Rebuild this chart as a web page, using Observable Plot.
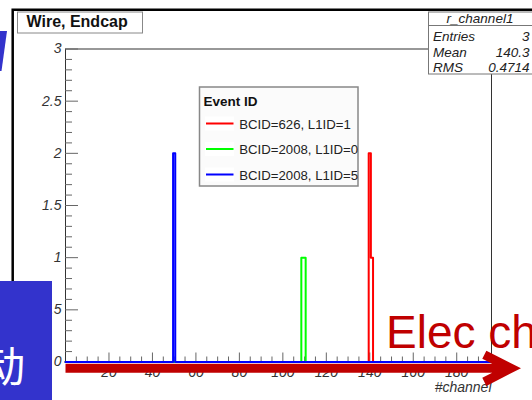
<!DOCTYPE html>
<html><head><meta charset="utf-8">
<script src="https://cdn.jsdelivr.net/npm/d3@7"></script>
<script src="https://cdn.jsdelivr.net/npm/@observablehq/plot@0.6"></script>
<style>
html,body{margin:0;padding:0;background:#fff;overflow:hidden}
#wrap{position:relative;width:532px;height:400px;overflow:hidden;background:#fff}
#wrap svg{position:absolute;left:0;top:0}
#wrap g[aria-label="y-axis tick label"] text,#wrap g[aria-label="x-axis tick label"] text{font-style:italic}
</style></head><body><div id="wrap"></div>
<script>
// ---- data ----
const seriesNames = ["BCID=626, L1ID=1", "BCID=2008, L1ID=0", "BCID=2008, L1ID=5"];
const seriesColors = ["#ff0000", "#00ff00", "#0000ff"];
const redChannels = [140, 141];
const redCounts = [2, 1];
const greenChannels = [109, 110];
const greenCounts = [1, 1];
const blueChannels = [50];
const blueCounts = [2];
const xRange = [0, 196];
const yRange = [0, 3];
const yMajorTicks = [0, 0.5, 1, 1.5, 2, 2.5, 3];
const yTickLabels = ["0", "0.5", "1", "1.5", "2", "2.5", "3"];
const yMinorTicks = [0.1,0.2,0.3,0.4,0.6,0.7,0.8,0.9,1.1,1.2,1.3,1.4,1.6,1.7,1.8,1.9,2.1,2.2,2.3,2.4,2.6,2.7,2.8,2.9];
const xMajorTicks = [20, 40, 60, 80, 100, 120, 140, 160, 180];
const xTickLabels = ["20", "40", "60", "80", "100", "120", "140", "160", "180"];
const xMinorTicks = [5,10,15,25,30,35,45,50,55,65,70,75,85,90,95,105,110,115,125,130,135,145,150,155,165,170,175,185,190,195];
const titleText = "Wire, Endcap";
const legendTitle = "Event ID";
const statsName = "r_channel1";
const statsLabels = ["Entries", "Mean", "RMS"];
const statsValues = ["3", "140.3", "0.4714"];
const xLabel = "#channel";
const arrowData = [{x1: 0, x2: 205, y: -0.06}];
const annotationText = "Elec ch";
const sideText = "动";

// ---- layout ----
const W = 532, H = 400;
const mL = 65, mR = 41, mT = 48.5, mB = 38.5;
const fw = W - mL - mR, fh = H - mT - mB;
const FONT = "'Liberation Sans', Arial, Helvetica, sans-serif";

function steps(chs, cnts) {
  const pts = [{x: xRange[0], y: 0}];
  chs.forEach((c, i) => {
    pts.push({x: c - 0.5, y: cnts[i]});
    if (!chs.includes(c + 1)) pts.push({x: c + 0.5, y: 0});
  });
  pts.push({x: xRange[1], y: 0});
  return pts;
}
const hist = [
  steps(redChannels, redCounts),
  steps(greenChannels, greenCounts),
  steps(blueChannels, blueCounts)
];

const chart = Plot.plot({
  width: W, height: H,
  marginLeft: mL, marginRight: mR, marginTop: mT, marginBottom: mB,
  x: {domain: xRange},
  y: {domain: yRange},
  style: {fontFamily: FONT, background: "transparent", color: "#333"},
  marks: [
    Plot.frame({stroke: "#333", strokeWidth: 1}),
    Plot.ruleY(yMinorTicks, {insetRight: fw - 7, stroke: "#666"}),
    Plot.ruleY(yMajorTicks, {insetRight: fw - 13, stroke: "#666"}),
    Plot.ruleX(xMinorTicks, {insetTop: fh - 5, stroke: "#666"}),
    Plot.ruleX(xMajorTicks, {insetTop: fh - 9, stroke: "#666"}),
    Plot.axisY({ticks: yMajorTicks, tickSize: 0, tickPadding: 4, label: null,
      tickFormat: (d) => yTickLabels[yMajorTicks.indexOf(d)], fontSize: 14, fontStyle: "italic", fill: "#333"}),
    Plot.axisX({ticks: xMajorTicks, tickSize: 0, tickPadding: 5.5, label: null,
      tickFormat: (d) => xTickLabels[xMajorTicks.indexOf(d)], fontSize: 14, fontStyle: "italic", fill: "#333"}),
    ...hist.map((pts, i) => Plot.line(pts, {x: "x", y: "y", curve: "step-after", stroke: seriesColors[i], strokeWidth: 2})),
    Plot.text([xLabel], {frameAnchor: "bottom-right", text: (d) => d, textAnchor: "end", lineAnchor: "bottom",
      dy: 30, fontSize: 14, fontStyle: "italic", fill: "#333"}),
    Plot.arrow(arrowData, {x1: "x1", x2: "x2", y1: "y", y2: "y", stroke: "#c00000", strokeWidth: 9,
      headLength: 5, headAngle: 54, strokeLinecap: "butt", strokeLinejoin: "miter", strokeMiterlimit: 10})
  ]
});
document.getElementById("wrap").appendChild(chart);

// ---- overlays (panel boxes & slide annotations) ----
const ov = d3.select("#wrap").append("svg")
  .attr("width", W).attr("height", H)
  .style("font-family", FONT);

// outer pad frame
ov.append("path").attr("d", "M12.7,400 V9.7 H540").attr("fill", "none")
  .attr("stroke", "#000").attr("stroke-width", 2.5);

// title box
ov.append("rect").attr("x", 17.5).attr("y", 12).attr("width", 125).attr("height", 21)
  .attr("fill", "#fff").attr("stroke", "#888");
ov.append("text").attr("x", 26.5).attr("y", 27.3).attr("font-weight", "bold")
  .attr("font-size", 16).attr("fill", "#111").text(titleText);

// stats box
const sb = ov.append("g");
sb.append("rect").attr("x", 428.5).attr("y", 12).attr("width", 120).attr("height", 62)
  .attr("fill", "#fff").attr("stroke", "#777");
sb.append("line").attr("x1", 428.5).attr("x2", 540).attr("y1", 25.5).attr("y2", 25.5).attr("stroke", "#777");
sb.append("text").attr("x", 480).attr("y", 22.7).attr("text-anchor", "middle")
  .attr("font-style", "italic").attr("font-size", 13.5).attr("fill", "#222").text(statsName);
const rowY = [41, 57, 72];
statsLabels.forEach((l, i) => {
  sb.append("text").attr("x", 433).attr("y", rowY[i]).attr("font-style", "italic")
    .attr("font-size", 13.5).attr("fill", "#222").text(l);
  sb.append("text").attr("x", 529.5).attr("y", rowY[i]).attr("text-anchor", "end")
    .attr("font-style", "italic").attr("font-size", 13.5).attr("fill", "#222").text(statsValues[i]);
});

// legend
const lg = ov.append("g");
ov.append("clipPath").attr("id", "lgclip").append("rect")
  .attr("x", 199.5).attr("y", 87).attr("width", 158.5).attr("height", 99);
lg.append("rect").attr("x", 199.5).attr("y", 87).attr("width", 158.5).attr("height", 99)
  .attr("fill", "#fbfbfb").attr("stroke", "#888").attr("stroke-width", 1.5);
const lgc = lg.append("g").attr("clip-path", "url(#lgclip)");
lgc.append("text").attr("x", 203.5).attr("y", 106).attr("font-weight", "bold")
  .attr("font-size", 13.5).attr("fill", "#111").text(legendTitle);
seriesNames.forEach((n, i) => {
  const yy = 123.5 + i * 25.5;
  lgc.append("rect").attr("x", 205).attr("y", yy - 7).attr("width", 29).attr("height", 14).attr("fill", "#fff");
  lgc.append("line").attr("x1", 206).attr("x2", 233.5).attr("y1", yy).attr("y2", yy)
    .attr("stroke", seriesColors[i]).attr("stroke-width", 2);
  lgc.append("text").attr("x", 239.3).attr("y", yy + 5).attr("font-size", 13.2)
    .attr("fill", "#222").text(n);
});

// slide annotations
ov.append("text").attr("x", 386).attr("y", 348).attr("font-size", 46)
  .attr("fill", "#c00000").text(annotationText);
ov.append("polygon").attr("points", "0,31 7,31 1.5,71 0,71").attr("fill", "#3333cc");
ov.append("rect").attr("x", 0).attr("y", 281).attr("width", 52).attr("height", 119).attr("fill", "#3333cc");
ov.append("text").attr("x", -17).attr("y", 382).attr("font-size", 42)
  .attr("font-family", "'Noto Sans CJK SC', sans-serif").attr("fill", "#fff").text(sideText);
</script>
</body></html>
